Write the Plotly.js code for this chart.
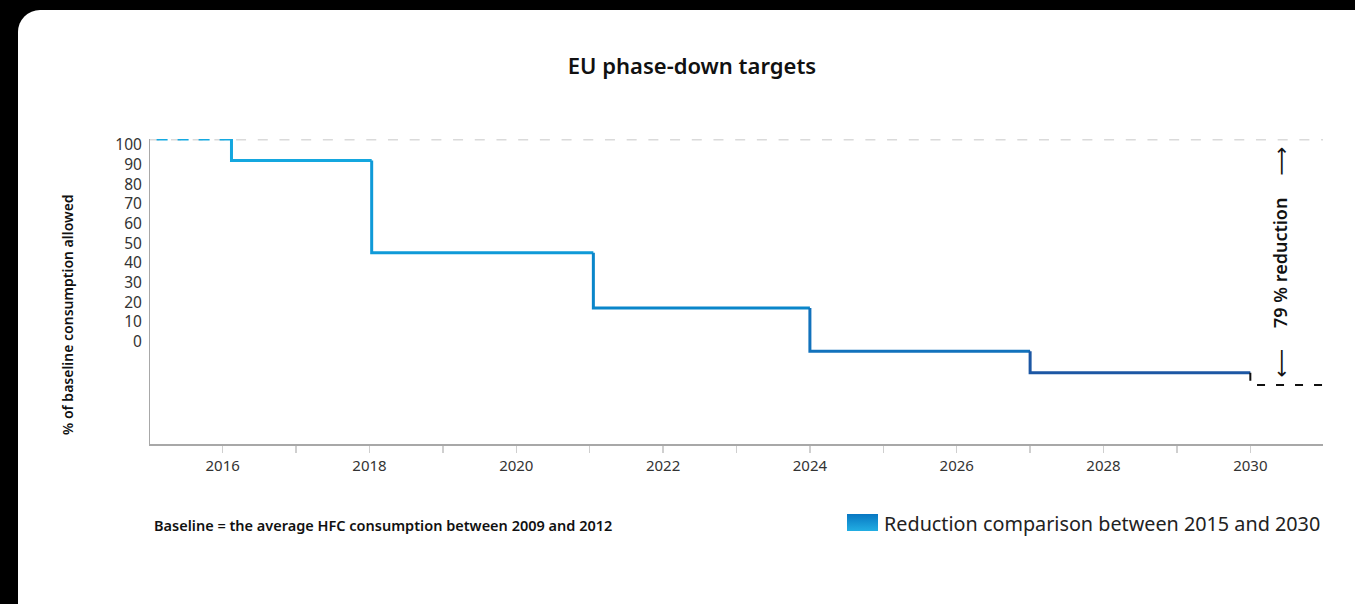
<!DOCTYPE html>
<html>
<head>
<meta charset="utf-8">
<script src="https://cdn.plot.ly/plotly-3.0.1.min.js"></script>
<style>
  html, body { margin: 0; padding: 0; background: #000; width: 1355px; height: 604px; overflow: hidden; }
  #card { position: absolute; left: 18px; top: 10px; width: 1360px; height: 620px; background: #fff; border-radius: 22px; }
  #chart { position: absolute; left: 0; top: 0; width: 1355px; height: 604px; }
</style>
</head>
<body>
<div id="card"></div>
<div id="chart"></div>
<script>
// ---- data ----
const stepYears   = [2015.1, 2016.12, 2018.03, 2021.05, 2024, 2027, 2030];
const allowedPct  = [100, 93, 63, 45, 31, 24, 20];
const endYear     = 2031;
const baselinePct = 100;
const yTickLabels = ['0', '10', '20', '30', '40', '50', '60', '70', '80', '90', '100'];
const yTickValues = [0, 10, 20, 30, 40, 50, 60, 70, 80, 90, 100];
const chartTitle  = 'EU phase-down targets';
const yTitle      = '% of baseline consumption allowed';
const footnote    = 'Baseline = the average HFC consumption between 2009 and 2012';
const legendText  = 'Reduction comparison between 2015 and 2030';
const reductionText = '79 % reduction';

// ---- styles ----
const FONT = '"Noto Sans", "Open Sans", sans-serif';
const segColors = ['#14a9e1', '#14a7df', '#0f9ad8', '#0a86ca', '#1272bc', '#1c57a4'];

const W = 1355, H = 604, ML = 150, MR = 32, MT = 139, MB = 160;
const PW = W - ML - MR, PH = H - MT - MB;
const px = x => (x - ML) / PW;
const py = y => (H - MB - y) / PH;

const traces = [];
// gray dashed baseline (100 %)
traces.push({
  x: [stepYears[0] - 0.1, endYear], y: [baselinePct, baselinePct],
  mode: 'lines', line: {color: '#dadada', width: 3, dash: '10px,11.7px'},
  cliponaxis: false, hoverinfo: 'skip', showlegend: false
});
// first year (dashed cyan)
traces.push({
  x: [stepYears[0], stepYears[1]], y: [allowedPct[0], allowedPct[0]],
  mode: 'lines', line: {color: segColors[0], width: 3, dash: '11px,10px'},
  cliponaxis: false, showlegend: false
});
// stepped segments
for (let i = 1; i < stepYears.length - 1; i++) {
  traces.push({
    x: [stepYears[i], stepYears[i], stepYears[i + 1]],
    y: [allowedPct[i - 1], allowedPct[i], allowedPct[i]],
    mode: 'lines', line: {color: segColors[i], width: 3},
    cliponaxis: false, showlegend: false
  });
}
// final 2030 target, black dashed
const n = stepYears.length - 1;
traces.push({
  x: [stepYears[n], stepYears[n], endYear],
  y: [allowedPct[n - 1], allowedPct[n], allowedPct[n]],
  mode: 'lines', line: {color: '#111', width: 2, dash: '8px,11px'},
  cliponaxis: false, showlegend: false
});

const swatchSvg = 'data:image/svg+xml;utf8,' + encodeURIComponent(
  '<svg xmlns="http://www.w3.org/2000/svg" width="31" height="17"><defs><linearGradient id="g" x1="0" y1="0" x2="0" y2="1">' +
  '<stop offset="0" stop-color="#0877c2"/><stop offset="1" stop-color="#22aee3"/></linearGradient></defs>' +
  '<rect width="31" height="17" fill="url(#g)"/></svg>');

const layout = {
  width: W, height: H,
  margin: {l: ML, r: MR, t: MT, b: MB, pad: 0},
  paper_bgcolor: 'rgba(0,0,0,0)', plot_bgcolor: 'rgba(0,0,0,0)',
  font: {family: FONT, color: '#222'},
  showlegend: false,
  title: {text: chartTitle, xref: 'container', yref: 'container', x: 692 / W, y: 1 - 66 / H,
          xanchor: 'center', yanchor: 'middle', font: {family: FONT, size: 22, color: '#111', weight: 600}},
  xaxis: {
    range: [2015.01, 2030.99], showline: true, linecolor: '#a8a8a8', linewidth: 1.5,
    showgrid: false, zeroline: false,
    tick0: 2016, dtick: 2, ticks: 'outside', ticklen: 7, tickcolor: '#cfcfcf', tickwidth: 1.5,
    minor: {dtick: 1, ticks: 'outside', ticklen: 7, tickcolor: '#cfcfcf', tickwidth: 1.5, showgrid: false},
    tickfont: {family: FONT, size: 15, color: '#333'}
  },
  yaxis: {
    range: [0.8, 100], showline: true, linecolor: '#a8a8a8', linewidth: 1.5,
    showgrid: false, zeroline: false, showticklabels: false, ticks: ''
  },
  yaxis2: {
    overlaying: 'y', side: 'left', range: [-52, 103.05],
    tickvals: yTickValues, ticktext: yTickLabels,
    showline: false, showgrid: false, zeroline: false,
    ticks: 'outside', ticklen: 4, tickcolor: 'rgba(0,0,0,0)',
    tickfont: {family: FONT, size: 15.5, color: '#333'}
  },
  annotations: [
    {text: yTitle, xref: 'paper', yref: 'paper', x: px(67), y: py(315), textangle: -90,
     showarrow: false, xanchor: 'center', yanchor: 'middle',
     font: {family: FONT, size: 14, color: '#111', weight: 600}},
    {text: reductionText, xref: 'paper', yref: 'paper', x: px(1280), y: py(263), textangle: -90,
     showarrow: false, xanchor: 'center', yanchor: 'middle',
     font: {family: FONT, size: 18, color: '#111', weight: 600}},
    {text: '⟶', xref: 'paper', yref: 'paper', x: px(1280), y: py(161.5), textangle: -90,
     showarrow: false, xanchor: 'center', yanchor: 'middle',
     font: {family: '"DejaVu Sans", sans-serif', size: 20, color: '#111'}},
    {text: '⟵', xref: 'paper', yref: 'paper', x: px(1280), y: py(363.5), textangle: -90,
     showarrow: false, xanchor: 'center', yanchor: 'middle',
     font: {family: '"DejaVu Sans", sans-serif', size: 20, color: '#111'}},
    {text: footnote, xref: 'paper', yref: 'paper', x: px(152), y: py(525), showarrow: false,
     xanchor: 'left', yanchor: 'middle', font: {family: FONT, size: 14.5, color: '#111', weight: 600}},
    {text: legendText, xref: 'paper', yref: 'paper', x: px(1322), y: py(523), showarrow: false,
     xanchor: 'right', yanchor: 'middle', font: {family: FONT, size: 19.8, color: '#222'}}
  ],
  images: [
    {source: swatchSvg, xref: 'paper', yref: 'paper', x: px(847), y: py(514),
     sizex: 31 / PW, sizey: 17 / PH, xanchor: 'left', yanchor: 'top', sizing: 'stretch', layer: 'above'}
  ]
};

// invisible anchor so the label axis is drawn
traces.push({x: [2016], y: [0], yaxis: 'y2', mode: 'markers', marker: {opacity: 0}, hoverinfo: 'skip', showlegend: false});

Plotly.newPlot('chart', traces, layout, {displayModeBar: false, staticPlot: true});
</script>
</body>
</html>
